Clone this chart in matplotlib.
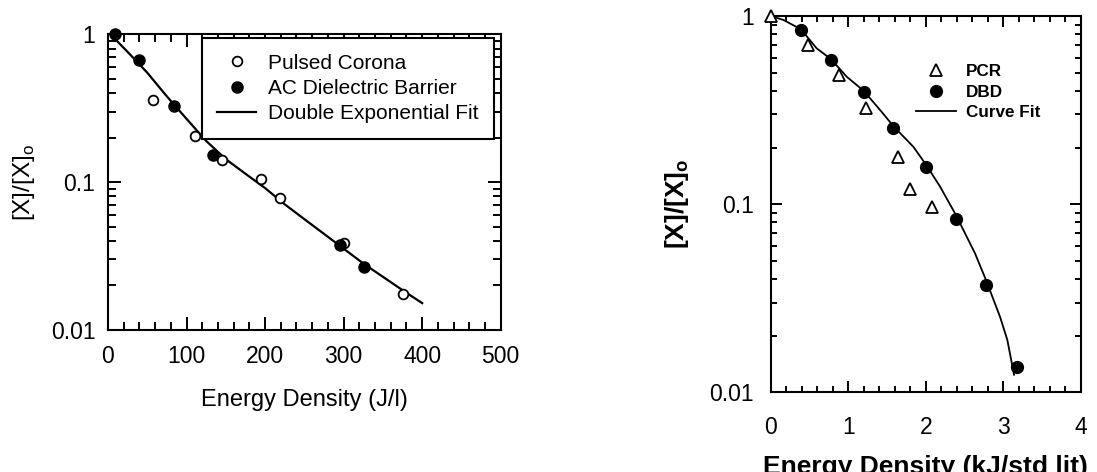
import numpy as np
import matplotlib
matplotlib.use("Agg")
import matplotlib.pyplot as plt
from matplotlib.ticker import LogLocator, MultipleLocator, FuncFormatter, NullFormatter

plt.rcParams['font.family'] = ['Liberation Sans', 'DejaVu Sans']
plt.rcParams['mathtext.fontset'] = 'custom'
plt.rcParams['mathtext.rm'] = 'Liberation Sans'
plt.rcParams['mathtext.bf'] = 'Liberation Sans:bold'

# left panel: pulsed corona vs AC dielectric barrier (J/l)
pc_x = [57, 110.5, 145, 194.5, 219, 300, 375.5]
pc_y = [0.357, 0.206, 0.141, 0.105, 0.0787, 0.0385, 0.0176]
ac_x = [8.5, 39, 84, 133.5, 295, 326]
ac_y = [1.0, 0.669, 0.325, 0.153, 0.0373, 0.0265]
fit_x = [5, 25, 50, 75, 100, 125, 150, 175, 200, 225, 250, 275, 300, 325, 350, 375, 400]
fit_y = [0.977, 0.76, 0.55, 0.38, 0.268, 0.19, 0.143, 0.114, 0.0912, 0.0708, 0.0562,
         0.0447, 0.0355, 0.0282, 0.0229, 0.0186, 0.0152]

# right panel: PCR vs DBD (kJ/std lit)
pcr_x = [0.0, 0.486, 0.886, 1.225, 1.647, 1.80, 2.08]
pcr_y = [1.0, 0.701, 0.486, 0.323, 0.179, 0.120, 0.0962]
dbd_x = [0.391, 0.778, 1.2, 1.582, 2.0, 2.387, 2.778, 3.174]
dbd_y = [0.843, 0.584, 0.393, 0.253, 0.157, 0.0837, 0.0373, 0.0136]
cf_x = [0.0, 0.163, 0.391, 0.593, 0.778, 0.98, 1.2, 1.43, 1.582, 1.84, 2.0, 2.185,
        2.387, 2.636, 2.778, 2.959, 3.053, 3.14]
cf_y = [1.0, 0.953, 0.85, 0.673, 0.59, 0.476, 0.40, 0.31, 0.26, 0.202, 0.163, 0.124,
        0.088, 0.0548, 0.0395, 0.0252, 0.019, 0.0124]

fig = plt.figure(figsize=(10.97, 4.72), dpi=100)
fmt = FuncFormatter(lambda v, p: '%g' % v)


def style_axes(ax, xmax, xmajor, xminor, maj_len, min_len, xpad, ypad):
    ax.set_yscale('log')
    ax.set_ylim(0.01, 1)
    ax.set_xlim(0, xmax)
    ax.xaxis.set_major_locator(MultipleLocator(xmajor))
    ax.xaxis.set_minor_locator(MultipleLocator(xminor))
    ax.yaxis.set_major_locator(LogLocator(base=10, numticks=10))
    ax.yaxis.set_minor_locator(LogLocator(base=10, subs=np.arange(2, 10), numticks=10))
    ax.yaxis.set_major_formatter(fmt)
    ax.yaxis.set_minor_formatter(NullFormatter())
    ax.xaxis.set_major_formatter(fmt)
    ax.tick_params(which='both', direction='in', top=True, right=True, width=1.4, labelsize=16.5)
    ax.tick_params(which='major', length=maj_len)
    ax.tick_params(which='minor', length=min_len)
    ax.tick_params(axis='x', which='major', pad=xpad)
    ax.tick_params(axis='y', which='major', pad=ypad)
    for s in ax.spines.values():
        s.set_linewidth(1.5)


# ---- left panel
ax1 = fig.add_axes([108 / 1097, 1 - 330 / 472, 392.7 / 1097, 295.7 / 472])
style_axes(ax1, 500, 100, 20, 9.5, 5.5, 11, 9)
ax1.plot(pc_x, pc_y, 'o', ms=7, mfc='white', mec='black', mew=1.3, ls='none',
         label='Pulsed Corona', clip_on=False, zorder=3)
ax1.plot(ac_x, ac_y, 'o', ms=8, mfc='black', mec='black', ls='none',
         label='AC Dielectric Barrier', clip_on=False, zorder=3)
ax1.plot(fit_x, fit_y, '-', color='black', lw=1.6, label='Double Exponential Fit')
ax1.set_xlabel('Energy Density (J/l)', fontsize=17)
ax1.xaxis.set_label_coords(0.5, -0.2)
ax1.set_ylabel(r'[X]/[X]$_{\mathregular{o}}$', fontsize=17.5, va='center')
ax1.yaxis.set_label_coords(-0.215, 0.5)
leg = ax1.legend(loc='upper left', bbox_to_anchor=(0.2386, 0.9875), fontsize=15,
                 frameon=True, fancybox=False, framealpha=1, borderpad=0.75,
                 labelspacing=0.3, handlelength=1.85, handletextpad=0.6, borderaxespad=0)
leg.get_frame().set_edgecolor('black')
leg.get_frame().set_linewidth(1.5)

# ---- right panel
ax2 = fig.add_axes([770.7 / 1097, 1 - 392.3 / 472, 310 / 1097, 376.3 / 472])
style_axes(ax2, 4, 1, 0.2, 7.7, 4.2, 17, 12)
ax2.plot(pcr_x, pcr_y, '^', ms=8.5, mfc='white', mec='black', mew=1.3, ls='none',
         label='PCR', clip_on=False, zorder=3)
ax2.plot(dbd_x, dbd_y, 'o', ms=8.5, mfc='black', mec='black', ls='none',
         label='DBD', clip_on=False, zorder=3)
ax2.plot(cf_x, cf_y, '-', color='black', lw=1.3, label='Curve Fit')
ax2.set_xlabel('Energy Density (kJ/std lit)', fontsize=19, fontweight='bold')
ax2.xaxis.set_label_coords(0.5, -0.1666)
ax2.set_ylabel(r'[X]/[X]$_{\mathbf{o}}$', fontsize=19, fontweight='bold', va='center')
ax2.yaxis.set_label_coords(-0.303, 0.5)
ax2.legend(loc='upper left', bbox_to_anchor=(0.4687, 0.8724), frameon=False,
           prop={'weight': 'bold', 'size': 12.3}, borderpad=0, labelspacing=0.33,
           handlelength=2.35, handletextpad=0.57, borderaxespad=0)

fig.savefig('out.png', dpi=100, facecolor='white')
